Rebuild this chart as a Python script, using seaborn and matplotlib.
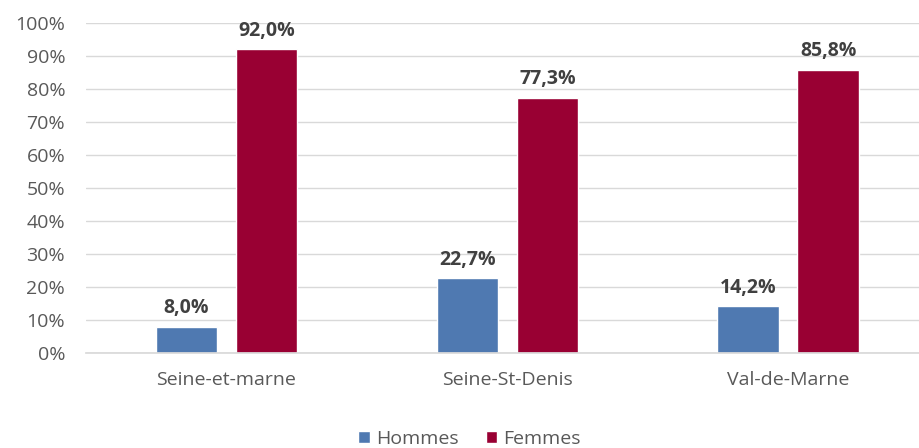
import pandas as pd
import seaborn as sns
import matplotlib.pyplot as plt
from matplotlib.ticker import FuncFormatter

departements = ["Seine-et-marne", "Seine-St-Denis", "Val-de-Marne"]
hommes = [8.0, 22.7, 14.2]
femmes = [92.0, 77.3, 85.8]
series = ["Hommes", "Femmes"]
colors = ["#4F79B1", "#990033"]

df = pd.DataFrame({
    "dep": departements * 2,
    "sexe": ["Hommes"] * 3 + ["Femmes"] * 3,
    "val": hommes + femmes,
})

sns.set_theme(style="white")
plt.rcParams["font.family"] = ["Open Sans", "DejaVu Sans"]

fig = plt.figure(figsize=(9.2, 4.48), dpi=100)
# axes runs a bit past the right edge, like the original export
ax = fig.add_axes([0.0935, 0.212, 0.916, 0.737])

sns.barplot(data=df, x="dep", y="val", hue="sexe", hue_order=series,
            palette=colors, width=0.57, gap=0.23, ax=ax, saturation=1)

# data labels
for cont in ax.containers:
    ax.bar_label(cont, labels=[f"{v:.1f}".replace(".", ",") + "%" for v in cont.datavalues],
                 padding=6, fontsize=14, fontweight="bold", color="#404040")

ax.set_ylim(0, 100)
ax.set_xlim(-0.5, 2.5)
ax.set_yticks(range(0, 101, 10))
ax.yaxis.set_major_formatter(FuncFormatter(lambda v, p: f"{int(v)}%"))
ax.grid(axis="y", color="#D9D9D9", linewidth=1)
ax.set_axisbelow(True)
for s in ["top", "right", "left"]:
    ax.spines[s].set_visible(False)
ax.spines["bottom"].set_color("#D9D9D9")
ax.tick_params(axis="both", length=0, labelsize=14, labelcolor="#595959")
ax.tick_params(axis="y", pad=15)
ax.tick_params(axis="x", pad=13)
ax.set_xlabel("")
ax.set_ylabel("")

ax.legend(loc="lower center", bbox_to_anchor=(0.455, -0.34), ncol=2, frameon=False,
          fontsize=14, labelcolor="#595959", handlelength=0.6, handleheight=0.6,
          handletextpad=0.3, columnspacing=1.4)

fig.savefig("out.png", dpi=100)
